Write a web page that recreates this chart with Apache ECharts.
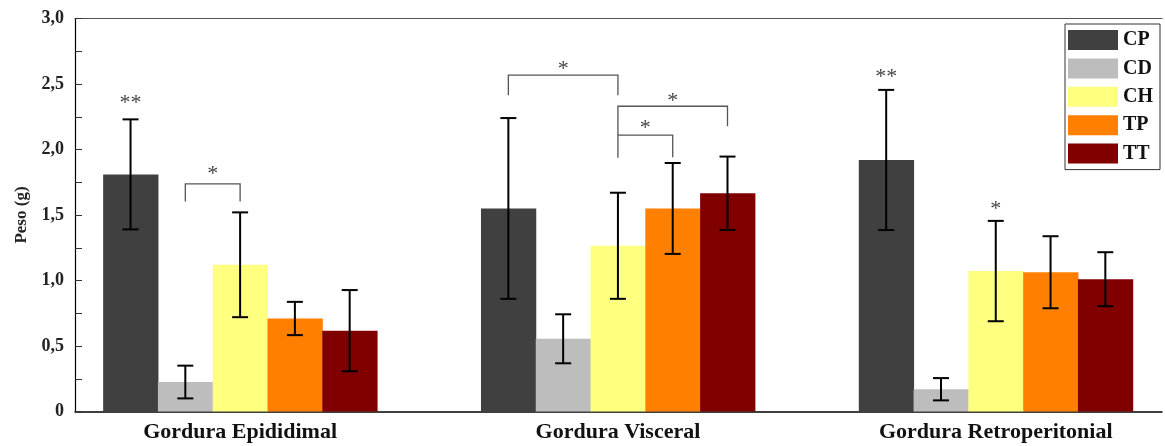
<!DOCTYPE html>
<html>
<head>
<meta charset="utf-8">
<script src="https://cdn.jsdelivr.net/npm/echarts@6/dist/echarts.min.js"></script>
<style>
  html, body { margin: 0; padding: 0; background: #fff; }
  #chart { width: 1165px; height: 446px; }
</style>
</head>
<body>
<div id="chart"></div>
<script>
// categorias e grupos
const categories = ['Gordura Epididimal', 'Gordura Visceral', 'Gordura Retroperitonial'];
const groups = ['CP', 'CD', 'CH', 'TP', 'TT'];
const colors = ['#404040', '#bdbdbd', '#ffff80', '#ff8000', '#800000'];

// medias e erros (g)
const cpMean = [1.81, 1.55, 1.92];
const cpErr  = [0.42, 0.69, 0.535];
const cdMean = [0.225, 0.555, 0.17];
const cdErr  = [0.125, 0.187, 0.085];
const chMean = [1.12, 1.265, 1.072];
const chErr  = [0.40, 0.405, 0.383];
const tpMean = [0.71, 1.55, 1.063];
const tpErr  = [0.127, 0.347, 0.275];
const ttMean = [0.617, 1.666, 1.01];
const ttErr  = [0.31, 0.28, 0.206];

// colchetes de significancia: [categoria, barra inicial, barra final, topo, ponta esq, ponta dir]
const brackets = [
    [0, 1, 2, 1.738, 1.603, 1.603],
    [1, 0, 2, 2.567, 2.415, 2.415],
    [1, 2, 4, 2.33, 2.11, 2.178],
    [1, 2, 3, 2.11, 1.937, 1.94]
];
// asteriscos: [categoria, posicao da barra, y, texto]
const stars = [
    [0, 0, 2.39, '**'],
    [0, 1.5, 1.85, '*'],
    [1, 1, 2.65, '*'],
    [1, 3, 2.41, '*'],
    [1, 2.5, 2.2, '*'],
    [2, 0, 2.59, '**'],
    [2, 2, 1.58, '*']
];

const means = [cpMean, cdMean, chMean, tpMean, ttMean];
const errs = [cpErr, cdErr, chErr, tpErr, ttErr];
const BAR_W = 0.145;
const serif = '"Liberation Serif", "DejaVu Serif", serif';

function barX(cat, pos) {
    return cat + (pos - 2) * BAR_W;
}

function renderBar(params, api) {
    const s = params.seriesIndex;
    const cat = api.value(0), v = api.value(1), e = api.value(2);
    const x = barX(cat, s);
    const w = api.size([BAR_W, 0])[0];
    const base = api.coord([x, 0]);
    const top = api.coord([x, v]);
    const hi = api.coord([x, v + e]);
    const lo = api.coord([x, v - e]);
    const cap = 8;
    const es = { stroke: '#000', lineWidth: 2 };
    return {
        type: 'group',
        children: [
            { type: 'rect', shape: { x: base[0] - w / 2, y: top[1], width: w + 0.5, height: base[1] - top[1] },
              style: { fill: api.visual('color') } },
            { type: 'line', shape: { x1: base[0], y1: hi[1], x2: base[0], y2: lo[1] }, style: es },
            { type: 'line', shape: { x1: base[0] - cap, y1: hi[1], x2: base[0] + cap, y2: hi[1] }, style: es },
            { type: 'line', shape: { x1: base[0] - cap, y1: lo[1], x2: base[0] + cap, y2: lo[1] }, style: es }
        ]
    };
}

function renderBracket(params, api) {
    const cat = api.value(0);
    const a = api.coord([barX(cat, api.value(1)), api.value(3)]);
    const b = api.coord([barX(cat, api.value(2)), api.value(3)]);
    const la = api.coord([0, api.value(4)]);
    const lb = api.coord([0, api.value(5)]);
    return {
        type: 'polyline',
        shape: { points: [[a[0], la[1]], [a[0], a[1]], [b[0], b[1]], [b[0], lb[1]]] },
        style: { stroke: '#555', lineWidth: 1.3, fill: null }
    };
}

function renderStar(params, api) {
    const cat = api.value(0);
    const p = api.coord([barX(cat, api.value(1)), api.value(2)]);
    // o glifo "*" fica no alto da caixa, desce um pouco
    return {
        type: 'text',
        x: p[0], y: p[1] + 5,
        style: { text: stars[params.dataIndex][3], fill: '#444', font: '22px ' + serif,
                 align: 'center', verticalAlign: 'middle' }
    };
}

const series = groups.map((g, i) => ({
    name: g,
    type: 'custom',
    renderItem: renderBar,
    itemStyle: { color: colors[i] },
    data: categories.map((c, j) => [j, means[i][j], errs[i][j]])
}));
series.push({
    type: 'custom', renderItem: renderBracket, silent: true,
    data: brackets
});
series.push({
    type: 'custom', renderItem: renderStar, silent: true,
    data: stars.map(s => [s[0], s[1], s[2]])
});

const chart = echarts.init(document.getElementById('chart'));
chart.setOption({
    animation: false,
    backgroundColor: '#fff',
    grid: { left: 75, right: 3, top: 18.5, bottom: 34.5 },
    legend: {
        orient: 'vertical',
        left: 1065, top: 24,
        itemWidth: 50, itemHeight: 20, itemGap: 8.4,
        padding: [6, 7, 6, 3],
        borderColor: '#333', borderWidth: 1,
        icon: 'rect',
        data: groups,
        textStyle: { fontFamily: serif, fontWeight: 'bold', fontSize: 20, color: '#111' }
    },
    xAxis: [{
        type: 'value', min: -0.437, max: 2.44,
        axisLine: { onZero: false, lineStyle: { color: '#000', width: 1.5 } },
        axisTick: { show: false },
        splitLine: { show: false },
        axisLabel: {
            customValues: [0, 1, 2],
            formatter: v => categories[Math.round(v)],
            margin: 10,
            fontFamily: serif, fontWeight: 'bold', fontSize: 22, color: '#111'
        }
    }, {
        type: 'value', position: 'top', min: -0.437, max: 2.44,
        axisLine: { show: true, onZero: false, lineStyle: { color: '#555', width: 1.2 } },
        axisTick: { show: false }, axisLabel: { show: false }, splitLine: { show: false }
    }],
    yAxis: {
        type: 'value', min: 0, max: 3, interval: 0.5,
        name: 'Peso (g)', nameLocation: 'middle', nameGap: 41,
        nameTextStyle: { fontFamily: serif, fontWeight: 'bold', fontSize: 17, color: '#222' },
        axisLine: { show: true, onZero: false, lineStyle: { color: '#000', width: 1.2 } },
        axisTick: { show: true, inside: true, length: 7, lineStyle: { color: '#333' } },
        minorTick: { show: true, splitNumber: 2, length: 7, lineStyle: { color: '#333' } },
        splitLine: { show: false },
        axisLabel: {
            margin: 11,
            formatter: v => v === 0 ? '0' : v.toFixed(1).replace('.', ','),
            fontFamily: serif, fontWeight: 'bold', fontSize: 18, color: '#222'
        }
    },
    series: series
});
</script>
</body>
</html>
